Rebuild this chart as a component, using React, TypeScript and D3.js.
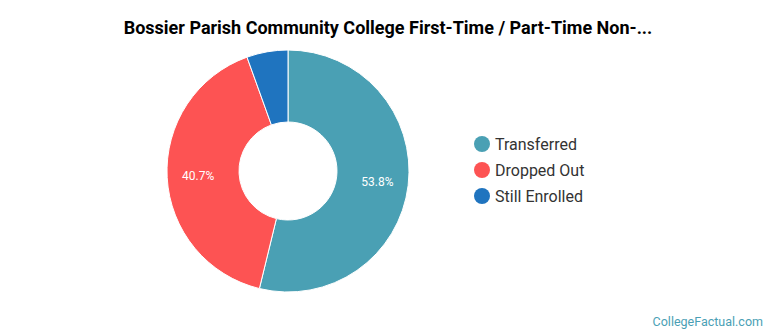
import React from "react";
import * as d3 from "d3";

const categories = ["Transferred", "Dropped Out", "Still Enrolled"];
const values = [53.8, 40.7, 5.5];
const colors = ["#4aa0b4", "#fd5353", "#1f74bf"];
const title = "Bossier Parish Community College First-Time / Part-Time Non-...";

export default function App() {
  const W = 770, H = 335;
  const cx = 288, cy = 171, R = 121, r = 49;
  const pie = d3.pie<number>().sort(null).value((d) => d)(values);
  const arc = d3.arc<d3.PieArcDatum<number>>().innerRadius(r).outerRadius(R);
  const labelArc = d3.arc<d3.PieArcDatum<number>>().innerRadius(90).outerRadius(90);
  const legendY = d3.scaleLinear().domain([0, 1]).range([144, 170]);
  return (
    <svg width={W} height={H} style={{ position: "absolute", left: 0, top: 0, fontFamily: "Roboto, sans-serif" }}>
      <rect width={W} height={H} fill="#fff" />
      <text x={388} y={34} textAnchor="middle" fontSize={18} fontWeight="bold" fill="#000">{title}</text>
      <g transform={`translate(${cx},${cy})`}>
        {pie.map((p, i) => (
          <path key={i} d={arc(p) || ""} fill={colors[i]} stroke="#fff" strokeWidth={1} />
        ))}
        {pie.map((p, i) => {
          if (values[i] < 10) return null;
          const [x, y] = labelArc.centroid(p);
          return (
            <text key={i} x={x} y={y} textAnchor="middle" dominantBaseline="central" fontSize={12} fill="#fff">
              {values[i].toFixed(1)}%
            </text>
          );
        })}
      </g>
      {categories.map((c, i) => (
        <g key={c} transform={`translate(482,${legendY(i)})`}>
          <circle r={8} fill={colors[i]} />
          <text x={13} y={0} dominantBaseline="central" fontSize={16} fill="#333">{c}</text>
        </g>
      ))}
      <text x={763} y={326} textAnchor="end" fontSize={12.5} fill="#4a9fb5">CollegeFactual.com</text>
    </svg>
  );
}
